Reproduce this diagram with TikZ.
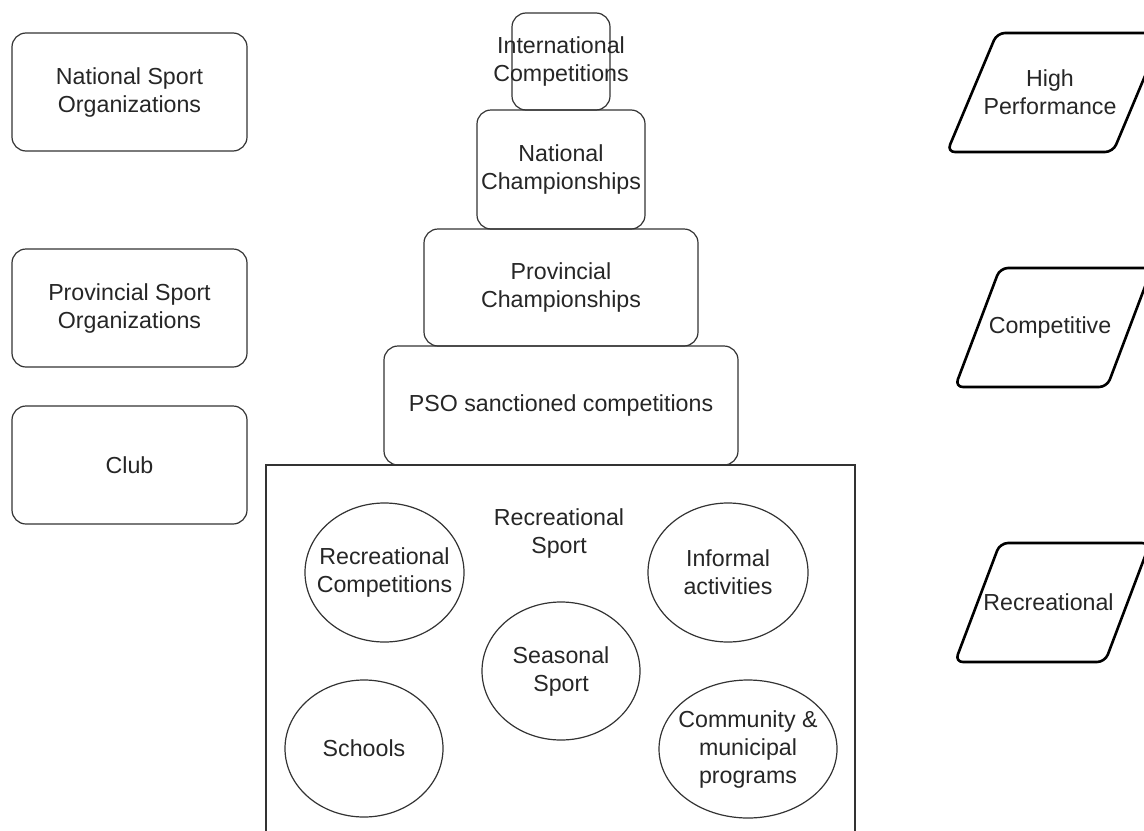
\documentclass[tikz,border=0pt]{standalone}
\usepackage{fontspec}
\setmainfont{Liberation Sans}
\usetikzlibrary{shapes.geometric}
\begin{document}
\begin{tikzpicture}[x=0.5pt,y=-0.5pt,
  every node/.style={font=\fontsize{11.6}{14}\selectfont, text=black!85},
  box/.style={draw=black!80, line width=0.6pt, rounded corners=7pt, inner sep=0pt, align=center},
  oval/.style={draw=black!80, line width=0.6pt, ellipse, inner sep=0pt},
  lbl/.style={align=center, inner sep=0pt},
  levelshape/.style={draw=black, line width=1.3pt, rounded corners=4pt}]
\useasboundingbox (0,0) rectangle (1144,830);
\clip (0,0) rectangle (1144,830);

% organisations
\node[box, minimum width=117.5pt, minimum height=59pt] (nso) at (129.5,92) {National Sport\\Organizations};
\node[box, minimum width=117.5pt, minimum height=59pt] (pso) at (129.5,308) {Provincial Sport\\Organizations};
\node[box, minimum width=117.5pt, minimum height=59pt] (club) at (129.5,465) {Club};

% recreational sport base
\draw[draw=black!80, line width=0.6pt] (266,465) rectangle (855,850);
\node[lbl] (recsport) at (559,533) {Recreational\\Sport};

% competition pyramid
\node[box, minimum width=49pt, minimum height=48.5pt] (intl) at (561,61.5) {};
\node[lbl] (intltxt) at (intl) {International\\Competitions};
\node[box, minimum width=84pt, minimum height=59.5pt] (natch) at (561,169.5) {National\\Championships};
\node[box, minimum width=137pt, minimum height=58.5pt] (provch) at (561,287.5) {Provincial\\Championships};
\node[box, minimum width=177pt, minimum height=59.5pt] (psocomp) at (561,405.5) {PSO sanctioned competitions};

% recreational activities (outline and label kept apart so the text may touch the edge)
\node[oval, minimum width=79.5pt, minimum height=69.5pt] (reccomp) at (384.5,572.5) {};
\node[lbl] (reccomptxt) at (reccomp) {Recreational\\Competitions};
\node[oval, minimum width=80pt, minimum height=69.5pt] (informal) at (728,572.5) {};
\node[lbl] (informaltxt) at (informal) {Informal\\activities};
\node[oval, minimum width=79pt, minimum height=69pt] (seasonal) at (561,671) {};
\node[lbl] (seasonaltxt) at (seasonal) {Seasonal\\Sport};
\node[oval, minimum width=79pt, minimum height=68.5pt] (schools) at (364,748.5) {};
\node[lbl] (schoolstxt) at (schools) {Schools};
\node[oval, minimum width=89pt, minimum height=69pt] (community) at (748,749) {};
\node[lbl] (communitytxt) at (community) {Community \&\\municipal\\programs};

% participation levels
\draw[levelshape] (997,33) -- (1163,33) -- (1113,152) -- (947,152) -- cycle;
\node[lbl] (high) at (1050,92) {High\\Performance};
\draw[levelshape] (1000,268) -- (1152,268) -- (1107,387) -- (955,387) -- cycle;
\node[lbl] (compet) at (1050,327) {Competitive};
\draw[levelshape] (1000,543) -- (1150,543) -- (1105,662) -- (955,662) -- cycle;
\node[lbl] (recr) at (1048.5,602) {Recreational};
\end{tikzpicture}
\end{document}
